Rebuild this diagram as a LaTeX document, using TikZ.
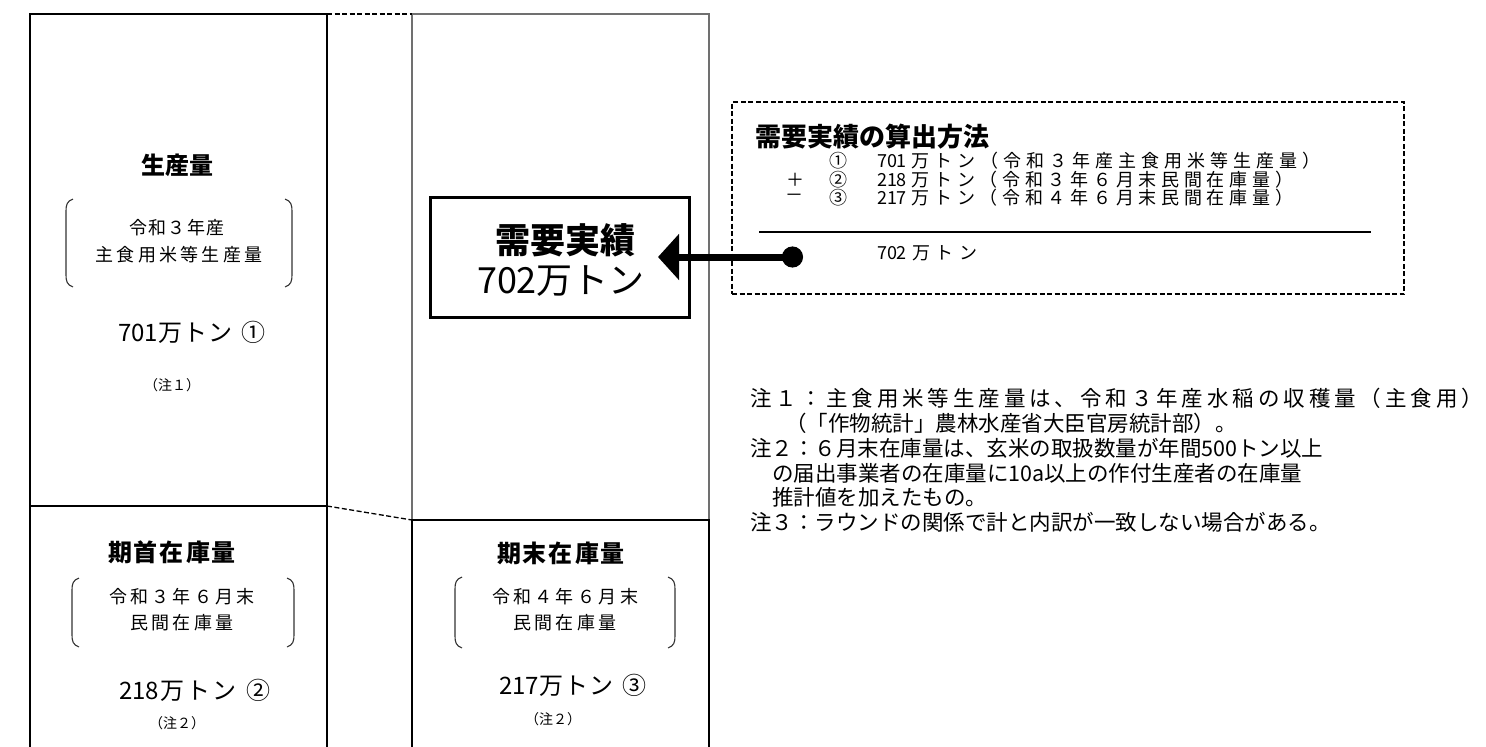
\documentclass[tikz,border=0pt]{standalone}
\usepackage{fontspec}
\setmainfont{Noto Sans CJK JP}
\usetikzlibrary{arrows.meta}
\ExplSyntaxOn
\NewDocumentCommand\spreadbox{mm}{\hbox~to~#1{\tl_map_inline:nn{#2}{##1\hfil}\unskip}}
\ExplSyntaxOff
\definecolor{colgray}{HTML}{707070}
\tikzset{
  colline/.style={line width=2.6pt, black},
  grayline/.style={line width=2.2pt, colgray},
  linkdash/.style={line width=1.3pt, dash pattern=on 5pt off 2.5pt},
  brk/.style={line width=1.1pt, black!80},
  txt/.style={inner sep=0pt, outer sep=0pt},
  head/.style={txt, font=\fontsize{24}{27}\selectfont\bfseries},
  sub/.style={txt, font=\fontsize{18}{21}\selectfont},
  amount/.style={txt, font=\fontsize{24}{27}\selectfont},
  noteref/.style={txt, font=\fontsize{14}{16}\selectfont},
  bigtxt/.style={txt, font=\fontsize{36}{38}\selectfont},
  calc/.style={txt, font=\fontsize{18}{19}\selectfont},
  note/.style={txt, anchor=west, font=\fontsize{21.5}{24}\selectfont},
}
\newcommand\lbr[3]{\draw[brk] (#1+7,#2) .. controls (#1+1,#2+2) and (#1,#2+6) .. (#1,#2+12) -- (#1,#3-12) .. controls (#1,#3-6) and (#1+1,#3-2) .. (#1+7,#3);}
\newcommand\rbr[3]{\draw[brk] (#1-7,#2) .. controls (#1-1,#2+2) and (#1,#2+6) .. (#1,#2+12) -- (#1,#3-12) .. controls (#1,#3-6) and (#1-1,#3-2) .. (#1-7,#3);}
\begin{document}
\begin{tikzpicture}[x=1pt,y=-1pt]
\useasboundingbox (0,0) rectangle (1486,747);
% columns
\draw[colline] (30,752) -- (30,14) -- (327,14) -- (327,752);
\draw[colline] (30,506) -- (327,506);
\draw[grayline] (412,520) -- (412,14) -- (709,14) -- (709,520);
\draw[colline] (412,752) -- (412,520) -- (709,520) -- (709,752);
\draw[linkdash] (327,14) -- (412,14);
\draw[linkdash] (327,506) -- (412,520);
% brackets
\lbr{66}{199}{287}\rbr{292}{199}{287}
\lbr{72}{578}{647}\rbr{294}{578}{647}
\lbr{455}{577}{648}\rbr{675}{577}{648}
% left top
\node[head] (prodh) at (177,165) {\spreadbox{72pt}{生産量}};
\node[sub] (prod1) at (177,228) {\spreadbox{96pt}{令和３年産}};
\node[sub] (prod2) at (179,255) {\spreadbox{167pt}{主食用米等生産量}};
\node[amount] (prodv) at (192,332) {\spreadbox{148pt}{{701}万トン{\hspace{8pt}①}}};
\node[noteref] (prodn) at (172,385) {（注１）};
% left bottom
\node[head] (begh) at (172,552) {\spreadbox{128pt}{期首在庫量}};
\node[sub] (beg1) at (182,597) {\spreadbox{146pt}{令和３年６月末}};
\node[sub] (beg2) at (182,623) {\spreadbox{104pt}{民間在庫量}};
\node[amount] (begv) at (195,690) {\spreadbox{152pt}{{218}万トン{\hspace{8pt}②}}};
\node[noteref] (begn) at (177,723) {（注２）};
% right bottom
\node[head] (endh) at (561,553) {\spreadbox{128pt}{期末在庫量}};
\node[sub] (end1) at (565,597) {\spreadbox{146pt}{令和４年６月末}};
\node[sub] (end2) at (565,623) {\spreadbox{104pt}{民間在庫量}};
\node[amount] (endv) at (573,685) {\spreadbox{148pt}{{217}万トン{\hspace{8pt}③}}};
\node[noteref] (endn) at (553,719) {（注２）};
% demand box
\node[draw, line width=3pt, minimum width=259pt, minimum height=120pt, inner sep=0pt] (need) at (559.5,257) {};
\node[bigtxt, font=\fontsize{35}{38}\selectfont\bfseries] (needh) at (565,240) {需要実績};
\node[bigtxt] (needv) at (561,281) {702万トン};
% calc box
\node[draw, linkdash, line width=1.2pt, minimum width=672pt, minimum height=192pt, inner sep=0pt] (calcbox) at (1068,198) {};
\node[txt, anchor=west, font=\fontsize{26}{28}\selectfont\bfseries] (calct) at (755,137) {需要実績の算出方法};
\node[calc] (c1) at (838,161) {①};
\node[calc] (c2) at (838,180) {②};
\node[calc] (c3) at (838,198) {③};
\node[calc] (plus) at (795,180) {＋};
\node[calc] (minus) at (794,198) {－};
\node[calc, anchor=west] (l1) at (877,161) {\spreadbox{443pt}{{701}万トン（令和３年産主食用米等生産量）}};
\node[calc, anchor=west] (l2) at (877,180) {\spreadbox{416pt}{{218}万トン（令和３年６月末民間在庫量）}};
\node[calc, anchor=west] (l3) at (877,198) {\spreadbox{416pt}{{217}万トン（令和４年６月末民間在庫量）}};
\coordinate (rulea) at (759,232);
\coordinate (ruleb) at (1371,232);
\draw[line width=1.5pt] (rulea) -- (ruleb);
\node[calc, anchor=west] (tot) at (877,253) {\spreadbox{100pt}{{702}万トン}};
% arrow
\coordinate (dot) at (803,257);
\coordinate (tip) at (658,257);
\draw[line width=7pt, {Circle[length=21pt]}-{Triangle[length=21pt,width=45pt]}] (dot) -- (tip);
% notes
\node[note] (n1) at (750,398) {\spreadbox{733pt}{注１：主食用米等生産量は、令和３年産水稲の収穫量（主食用）}};
\node[note] (n1b) at (785,423) {（「作物統計」農林水産省大臣官房統計部）。};
\node[note] (n2) at (750,448) {\spreadbox{567pt}{注２：６月末在庫量は、玄米の取扱数量が年間{500}トン以上}};
\node[note] (n2b) at (772,473) {\spreadbox{528pt}{の届出事業者の在庫量に{10a}以上の作付生産者の在庫量}};
\node[note] (n2c) at (772,497) {推計値を加えたもの。};
\node[note] (n3) at (750,522) {\spreadbox{577pt}{注３：ラウンドの関係で計と内訳が一致しない場合がある。}};
\end{tikzpicture}
\end{document}
